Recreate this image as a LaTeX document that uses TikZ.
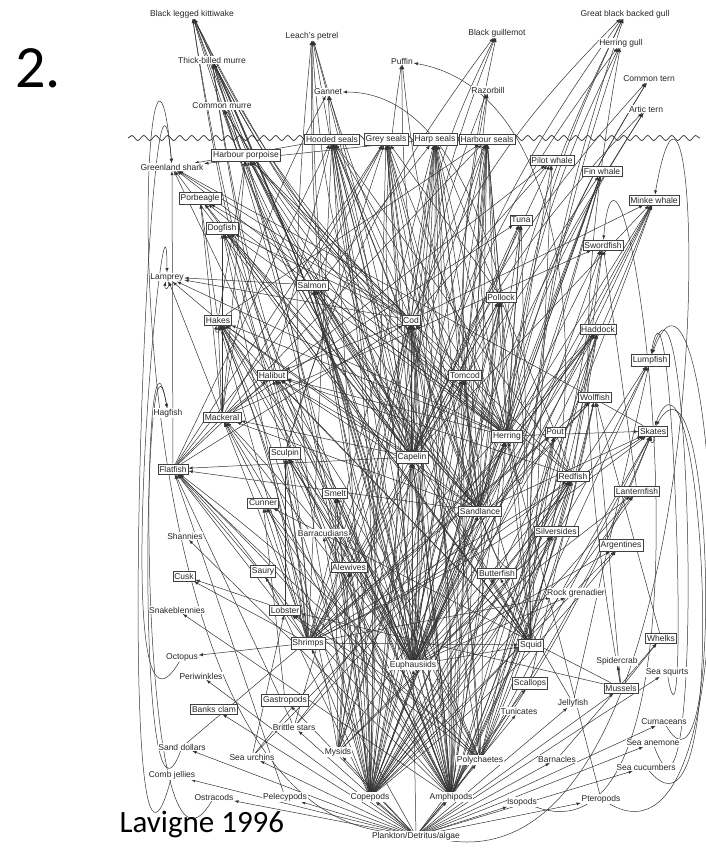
\documentclass[tikz,border=0pt]{standalone}
\usepackage{fontspec}
\setmainfont{Liberation Sans}
\newfontfamily\calib{Carlito}
\usetikzlibrary{arrows}
\usetikzlibrary{decorations.pathmorphing}
\pgfdeclarelayer{bg}
\pgfsetlayers{bg,main}
\tikzset{
  box/.style={draw=black!75, fill=white, inner xsep=1.5pt, inner ysep=2pt, font=\fontsize{8.5}{9}\selectfont, text=black!85},
  lbl/.style={fill=white, inner sep=0.6pt, font=\fontsize{8.5}{9}\selectfont, text=black!85},
  link/.style={black!80, line width=0.5pt, -latex},
}
\begin{document}
\begin{tikzpicture}
    [
    x=1pt, y=-1pt, >=latex
    %Pixelkoordinaten, y nach unten
    ]
    \useasboundingbox (0,0) rectangle (705,850);
    
    %Titel und Quelle
    \node[font=\calib\fontsize{60}{60}\selectfont, anchor=base west] (num) at (12,88) {2.};
    \node[font=\calib\fontsize{31}{31}\selectfont, anchor=base west] (src) at (116,832) {Lavigne 1996};
    
    %Wasseroberflaeche
    \draw[black!80, line width=0.7pt, decorate, decoration={snake, segment length=12, amplitude=2.5}] (128,138) -- (700,138);
    
    %Arten mit Rahmen
    \foreach \n/\x/\y/\t in {
      hood/332/139/Hooded seals, grey/386/139/Grey seals, harp/435/139/Harp seals, hbseal/487/139/Harbour seals,
      porp/246/155/Harbour porpoise, pilot/552/160/Pilot whale, fin/602/171/Fin whale, minke/654/200/Minke whale,
      porb/200/198/Porbeagle, tuna/521/220/Tuna, dog/222/228/Dogfish, sword/603/245/Swordfish,
      salmon/312/285/Salmon, pollock/501/297/Pollock, hakes/218/320/Hakes, cod/411/320/Cod, haddock/598/329/Haddock,
      lump/650/360/Lumpfish, halibut/272/375/Halibut, tomcod/465/375/Tomcod, wolf/595/397/Wolffish,
      mack/222/417/Mackeral, skates/653/431/Skates, pout/555/432/Pout, herring/507/436/Herring,
      sculpin/285/453/Sculpin, capelin/412/457/Capelin, flat/173/469/Flatfish, redfish/573/476/Redfish,
      lantern/637/491/Lanternfish, smelt/335/493/Smelt, cunner/263/503/Cunner, sandl/480/511/Sandlance,
      silver/556/531/Silversides, argent/621/545/Argentines, alew/349/567/Alewives, saury/263/571/Saury,
      butter/497/573/Butterfish, cusk/184/576/Cusk, lobster/285/610/Lobster, whelks/661/638/Whelks,
      shrimps/308/643/Shrimps, squid/531/645/Squid, scallops/530/683/Scallops, mussels/621/688/Mussels,
      gastro/285/700/Gastropods, banks/214/709/Banks clam}
    \node[box] (\n) at (\x,\y) {\t};
    
    %Arten ohne Rahmen
    \foreach \n/\x/\y/\t in {
      kit/192/14/Black legged kittiwake, petrel/312/36/Leach's petrel, bguil/497/33/Black guillemot,
      gbbg/625/14/Great black backed gull, hgull/621/43/Herring gull, tbm/212/60/Thick-billed murre,
      puffin/402/61/Puffin, cterm/649/79/Common tern, gannet/328/92/Gannet, razor/488/90/Razorbill,
      cmurre/222/106/Common murre, aterm/646/109/Artic tern, shark/172/167/Greenland shark,
      lamprey/167/277/Lamprey, hagfish/168/413/Hagfish, barrac/323/533/Barracudians, shann/185/536/Shannies,
      rockg/576/593/Rock grenadier, snake/177/610/Snakeblennies, octo/182/657/Octopus, spider/617/661/Spidercrab,
      euph/413/665/Euphausiids, squirt/667/672/Sea squirts, peri/201/676/Periwinkles, jelly/573/703/Jellyfish,
      tunic/519/711/Tunicates, cuma/664/722/Cumaceans, brittle/294/727/Brittle stars, anem/653/743/Sea anemone,
      sdoll/182/747/Sand dollars, mysid/338/752/Mysids, urch/252/757/Sea urchins, barn/557/759/Barnacles,
      poly/480/760/Polychaetes, scuc/646/767/Sea cucumbers, comb/172/775/Comb jellies, ostra/214/797/Ostracods,
      pele/285/797/Pelecypods, cope/370/797/Copepods, amph/451/797/Amphipods, iso/522/802/Isopods, ptero/601/799/Pteropods}
    \node[lbl] (\n) at (\x,\y) {\t};
    \node[lbl] (plank) at (416,836) {Plankton/Detritus/algae};
    
    \begin{pgfonlayer}{bg}
    %Fische und Saeuger
    \foreach \r/\l in {
      hood/{capelin,cod,herring,redfish,squid,flat,amph,euph,sandl,halibut,shrimps,cope},
      grey/{cod,herring,sandl,flat,capelin,salmon,squid,pollock,mack,sculpin,cope,amph},
      harp/{capelin,cod,herring,euph,amph,sandl,redfish,flat,shrimps,mysid,cope,poly},
      hbseal/{cod,herring,sandl,pollock,flat,squid,capelin,alew,hakes,tomcod,amph,euph},
      porp/{herring,capelin,cod,squid,mack,hakes,sandl,smelt},
      pilot/{squid,mack,herring,cod,capelin},
      fin/{euph,cope,capelin,herring,sandl},
      minke/{capelin,herring,sandl,euph,cod,cope},
      shark/{cod,flat,redfish,skates,halibut,hood,harp,squid},
      porb/{mack,herring,cod,squid,hakes,capelin},
      dog/{herring,capelin,squid,sandl,cod,mack,shrimps,euph},
      lamprey/{cod,salmon,herring,mack,hakes},
      salmon/{capelin,herring,sandl,euph,amph,squid},
      hakes/{herring,capelin,shrimps,euph,mack,sandl,squid},
      cod/{capelin,sandl,herring,shrimps,amph,euph,poly,redfish,flat,mysid,brittle},
      tuna/{mack,herring,squid,capelin,butter},
      sword/{squid,mack,herring,redfish,lantern},
      pollock/{herring,euph,capelin,sandl,shrimps,cope},
      haddock/{poly,amph,brittle,sandl,shrimps,urch,euph},
      halibut/{cod,capelin,sandl,herring,flat,redfish,squid},
      mack/{cope,euph,capelin,sandl,amph},
      sculpin/{shrimps,amph,poly,lobster,euph},
      flat/{poly,amph,pele,brittle,shrimps,capelin,sandl},
      capelin/{cope,euph,amph},
      smelt/{cope,euph,amph,mysid},
      cunner/{mussels,gastro,shrimps,amph},
      tomcod/{shrimps,amph,mysid,cope},
      lump/{cope,amph,jelly},
      wolf/{whelks,urch,mussels,scallops,sdoll,brittle},
      herring/{cope,euph,amph,ptero},
      pout/{amph,poly,shrimps},
      skates/{shrimps,sandl,poly,squid,herring},
      redfish/{euph,cope,amph},
      lantern/{cope,euph},
      sandl/{cope,euph},
      silver/{cope,mysid},
      argent/{euph,cope},
      butter/{jelly,cope},
      rockg/{shrimps,euph},
      squid/{euph,capelin,herring,shrimps},
      whelks/{mussels,barn},
      saury/{cope},
      alew/{cope,mysid},
      cusk/{shrimps,lobster},
      lobster/{mussels,urch,poly},
      octo/{shrimps},
      barrac/{cope},
      shann/{amph},
      snake/{amph},
      spider/{mussels}}
    \foreach \q in \l \draw[link] (\q) -- (\r);
    
    %Buendel von unten
    \foreach \q/\l in {
      cope/{hood,grey,harp,hbseal,kit,tbm,petrel,minke,fin,salmon,hakes,cod,mack,pollock,smelt,alew,silver,lantern,argent,redfish,lump},
      amph/{hood,grey,harp,hbseal,kit,tbm,petrel,cod,haddock,flat,sculpin,pout,skates,wolf,redfish,salmon,hakes,halibut,tomcod,cunner},
      euph/{hood,grey,harp,hbseal,kit,tbm,petrel,fin,minke,cod,hakes,mack,pollock,redfish,herring,capelin,salmon,sword,tuna},
      poly/{cod,haddock,flat,pout,skates,sculpin,wolf,halibut,hakes,lobster,harp},
      mysid/{cod,hakes,smelt,herring,capelin,redfish},
      shrimps/{cod,hakes,haddock,halibut,redfish,skates,flat,sculpin,pollock,dog,tuna}}
    \foreach \r in \l \draw[link] (\q) to[bend right=6] (\r);
    
    %Seevoegel
    \foreach \r/\l in {
      kit/{capelin,sandl,herring,cod,euph,amph},
      petrel/{amph,cope,euph,capelin},
      tbm/{capelin,cod,sandl,amph,euph,herring},
      cmurre/{capelin,cod,sandl,herring},
      gannet/{herring,mack,capelin},
      puffin/{capelin,sandl,herring},
      bguil/{sandl,capelin,sculpin,cod},
      razor/{capelin,sandl,herring},
      gbbg/{capelin,herring,cod,squid,sandl},
      hgull/{capelin,herring,mussels,squid},
      cterm/{sandl,capelin,herring},
      aterm/{sandl,capelin,euph}}
    \foreach \q in \l \draw[link] (\q) to[bend left=10] (\r);
    \draw[link] (herring) to[out=-80, in=0, looseness=1.3] (gannet);
    \draw[link] (sandl) to[out=-75, in=-10, looseness=1.4] (puffin);
    
    %Plankton
    \foreach \q in {cope,amph,iso,ptero,ostra,pele,mysid,poly,barn,scuc,anem,cuma,tunic,jelly,urch,sdoll,comb,euph,shrimps,scallops,mussels,peri,gastro,banks,brittle,squirt}
    \draw[link] (plank) -- (\q);
    
    %grosse Boegen links und rechts
    \draw[link] (plank) to[out=172, in=95, looseness=1.1] (shark);
    \draw[link] (comb) to[out=-105, in=95] (shark);
    \draw[link] (sdoll) to[out=-110, in=100] (hagfish);
    \draw[link] (octo) to[out=-120, in=90] (lamprey);
    \draw[link] (ostra) to[out=-120, in=100] (hagfish);
    \draw[link] (plank) to[out=-8, in=80, looseness=1.1] (minke);
    \draw[link] (ptero) to[out=-30, in=70] (lump);
    \draw[link] (cuma) to[out=-60, in=60] (skates);
    \draw[link] (squirt) to[out=-80, in=80] (lump);
    \draw[link] (scuc) to[out=-50, in=70] (skates);
    \draw[link] (anem) to[out=-70, in=75] (lump);
    \draw[link] (iso) to[out=-20, in=85] (sword);
    
    %Kannibalismus
    \draw[link] (lamprey) to[loop below, min distance=9pt] (lamprey);
    \draw[link] (hakes) to[loop below, min distance=9pt] (hakes);
    \draw[link] (skates) to[loop below, min distance=8pt] (skates);
    \end{pgfonlayer}
\end{tikzpicture}
\end{document}
